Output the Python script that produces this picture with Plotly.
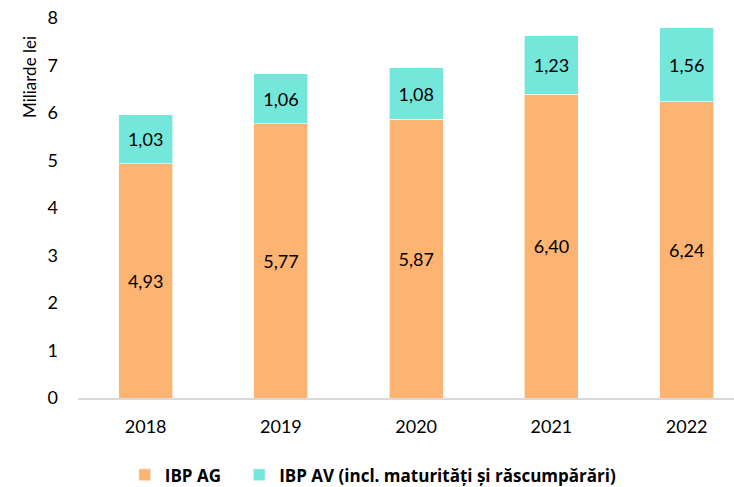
import plotly.graph_objects as go

years = ["2018", "2019", "2020", "2021", "2022"]
ibp_ag = [4.93, 5.77, 5.87, 6.40, 6.24]
ibp_av = [1.03, 1.06, 1.08, 1.23, 1.56]

series_names = ["IBP AG", "IBP AV (incl. maturități și răscumpărări)"]
colors = ["#FDB372", "#75E6DA"]

FONT = "Lato, Carlito, Calibri, sans-serif"
LEGEND_FONT = "Open Sans, sans-serif"

fig = go.Figure()
for i, (name, vals, col) in enumerate(zip(series_names, [ibp_ag, ibp_av], colors)):
    # extra trailing space widens the gap between the two legend entries
    pad = "&nbsp;&nbsp;&nbsp;" if i == 0 else ""
    fig.add_trace(go.Bar(
        x=years, y=vals, name=f"<b>{name}{pad}</b>",
        marker=dict(color=col, line=dict(color="rgba(255,255,255,0.6)", width=1)),
        width=0.4,
        texttemplate="%{y:.2f}", textposition="inside", insidetextanchor="middle",
        textfont=dict(family=FONT, size=18, color="#000000"),
        constraintext="none",
        hoverinfo="skip",
    ))

fig.update_layout(
    barmode="stack",
    separators=", ",
    width=734, height=487,
    margin=dict(l=78, r=0, t=18, b=89),
    plot_bgcolor="white", paper_bgcolor="white",
    font=dict(family=FONT, size=18, color="#000000"),
    showlegend=True,
    legend=dict(
        orientation="h", traceorder="normal",
        xref="container", yref="container",
        x=0.170, xanchor="left", y=0.024, yanchor="middle",
        font=dict(family=LEGEND_FONT, size=17, color="#000000", weight="bold"),
        itemwidth=30, tracegroupgap=0,
    ),
    xaxis=dict(
        type="category", range=[-0.5, 4.35],
        showline=True, linecolor="#D9D9D9", linewidth=1.5,
        showgrid=False, ticks="", ticklabelstandoff=12,
        tickfont=dict(family=FONT, size=18),
    ),
    yaxis=dict(
        range=[0, 8], dtick=1, showgrid=False, zeroline=False, showline=False,
        ticks="", ticklabelstandoff=19,
        tickfont=dict(family=FONT, size=18),
    ),
    annotations=[dict(
        text="Miliarde lei", textangle=-90, xref="paper", yref="paper",
        x=-0.073, y=0.845, xanchor="center", yanchor="middle", showarrow=False,
        font=dict(family=FONT, size=17, color="#000000"),
    )],
)

fig.write_html("out.html")
